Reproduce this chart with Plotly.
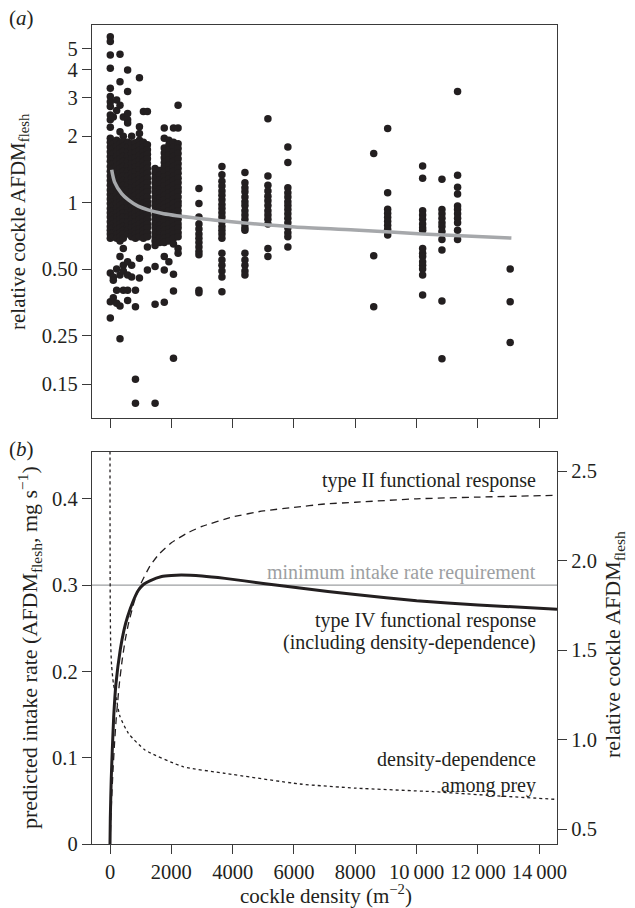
import plotly.graph_objects as go

# ---------------- data: panel (a) scatter, one list per density column ----------------
column_density = [10, 108, 217, 326, 434, 575, 706,
                  830, 960, 1090, 1220,
                  1470, 1620, 1770, 1920, 2070, 2220,
                  2900, 3650, 4400, 5150, 5800,
                  8600, 9055, 10195, 10825, 11335, 13050]

column_values = [
    [5.66, 5.38, 4.68, 4.07, 3.30, 3.03, 2.87, 2.73, 2.50, 2.38, 2.2, 1.96, 1.88, 1.79, 1.70, 1.62, 1.54, 1.46,
     1.39, 1.32, 1.26, 1.20, 1.14, 1.09, 1.04, 0.99, 0.94, 0.90, 0.86, 0.82, 0.78, 0.75, 0.72, 0.69, 0.48, 0.355, 0.30],
    [2.45, 1.85, 1.76, 1.67, 1.58, 1.50, 1.43, 1.36, 1.29, 1.23, 1.17, 1.12, 1.06, 1.01, 0.97, 0.92, 0.88, 0.84,
     0.80, 0.77, 0.73, 0.70, 0.46, 0.445, 0.37],
    [2.92, 2.62, 1.92, 1.80, 1.71, 1.62, 1.54, 1.46, 1.39, 1.32, 1.26, 1.20, 1.14, 1.09, 1.04, 0.99, 0.94, 0.90,
     0.86, 0.82, 0.78, 0.75, 0.72, 0.69, 0.50, 0.40, 0.35],
    [4.71, 3.54, 2.77, 2.10, 1.85, 1.76, 1.67, 1.58, 1.50, 1.43, 1.36, 1.29, 1.23, 1.17, 1.12, 1.06, 1.01, 0.97,
     0.92, 0.88, 0.84, 0.80, 0.77, 0.73, 0.70, 0.67, 0.57, 0.47, 0.34, 0.241],
    [2.45, 2.0, 1.90, 1.80, 1.71, 1.62, 1.54, 1.46, 1.39, 1.32, 1.26, 1.20, 1.14, 1.09, 1.04, 0.99, 0.94, 0.90,
     0.86, 0.82, 0.78, 0.75, 0.72, 0.69, 0.62, 0.52, 0.49, 0.40],
    [4.0, 3.19, 2.54, 2.38, 2.30, 1.88, 1.79, 1.70, 1.62, 1.54, 1.46, 1.39, 1.32, 1.26, 1.20, 1.14, 1.09, 1.04,
     0.99, 0.94, 0.90, 0.86, 0.82, 0.78, 0.75, 0.72, 0.54, 0.47, 0.40, 0.36],
    [2.0, 1.85, 1.76, 1.67, 1.58, 1.50, 1.43, 1.36, 1.29, 1.23, 1.17, 1.12, 1.06, 1.01, 0.97, 0.92, 0.88, 0.84,
     0.80, 0.77, 0.73, 0.70, 0.52, 0.46],
    [1.87, 1.78, 1.69, 1.60, 1.52, 1.45, 1.38, 1.31, 1.25, 1.19, 1.13, 1.08, 1.03, 0.98, 0.94, 0.90, 0.86, 0.82,
     0.78, 0.75, 0.72, 0.69, 0.40, 0.337, 0.158, 0.123],
    [3.69, 2.21, 2.06, 1.92, 1.82, 1.73, 1.64, 1.56, 1.48, 1.41, 1.34, 1.28, 1.22, 1.16, 1.11, 1.06, 1.01, 0.96,
     0.92, 0.88, 0.84, 0.80, 0.76, 0.73, 0.70, 0.56, 0.455],
    [2.59, 1.88, 1.79, 1.70, 1.62, 1.54, 1.46, 1.39, 1.32, 1.26, 1.20, 1.14, 1.09, 1.04, 0.99, 0.94, 0.90, 0.86,
     0.82, 0.78, 0.75, 0.72, 0.69],
    [2.59, 1.83, 1.74, 1.66, 1.58, 1.50, 1.43, 1.36, 1.29, 1.23, 1.17, 1.12, 1.06, 1.01, 0.97, 0.92, 0.88, 0.84,
     0.80, 0.77, 0.73, 0.70, 0.63, 0.495],
    [1.43, 1.36, 1.29, 1.23, 1.17, 1.12, 1.06, 1.01, 0.97, 0.92, 0.88, 0.84, 0.80, 0.77, 0.73, 0.70, 0.67, 0.64,
     0.513, 0.346, 0.123],
    [1.40, 1.33, 1.27, 1.21, 1.15, 1.10, 1.05, 1.00, 0.95, 0.91, 0.87, 0.83, 0.79, 0.76, 0.72, 0.69, 0.66],
    [2.18, 1.96, 1.77, 1.68, 1.60, 1.52, 1.45, 1.38, 1.31, 1.25, 1.19, 1.13, 1.08, 1.03, 0.98, 0.94, 0.90, 0.86,
     0.82, 0.78, 0.75, 0.72, 0.69, 0.66, 0.57, 0.495, 0.353],
    [1.92, 1.82, 1.73, 1.64, 1.56, 1.48, 1.41, 1.34, 1.28, 1.22, 1.16, 1.11, 1.06, 1.01, 0.96, 0.92, 0.88, 0.84,
     0.80, 0.76, 0.73, 0.70, 0.67, 0.54],
    [2.18, 1.88, 1.79, 1.70, 1.62, 1.54, 1.46, 1.39, 1.32, 1.26, 1.20, 1.14, 1.09, 1.04, 0.99, 0.94, 0.90, 0.86,
     0.82, 0.78, 0.75, 0.72, 0.69, 0.65, 0.473, 0.397, 0.197],
    [2.77, 2.18, 1.85, 1.76, 1.67, 1.58, 1.50, 1.43, 1.36, 1.29, 1.23, 1.17, 1.12, 1.06, 1.01, 0.97, 0.92, 0.88,
     0.84, 0.80, 0.77, 0.73, 0.70, 0.62, 0.59],
    [1.16, 0.99, 0.86, 0.80, 0.76, 0.72, 0.69, 0.66, 0.63, 0.60, 0.58, 0.40, 0.39],
    [1.46, 1.34, 1.25, 1.19, 1.13, 1.08, 1.03, 0.98, 0.94, 0.90, 0.86, 0.82, 0.78, 0.75, 0.72, 0.69, 0.59, 0.55,
     0.52, 0.49, 0.46, 0.394],
    [1.37, 1.23, 1.17, 1.12, 1.06, 1.01, 0.97, 0.92, 0.88, 0.84, 0.80, 0.77, 0.75, 0.59, 0.55, 0.52, 0.49, 0.47],
    [2.40, 1.32, 1.20, 1.13, 1.07, 1.02, 0.97, 0.92, 0.88, 0.84, 0.80, 0.62, 0.57],
    [1.79, 1.52, 1.17, 1.11, 1.06, 1.01, 0.97, 0.93, 0.89, 0.85, 0.81, 0.77, 0.73, 0.70, 0.63],
    [1.67, 0.575, 0.337],
    [2.17, 1.11, 0.933, 0.895, 0.859, 0.824, 0.79, 0.758, 0.714],
    [1.467, 1.29, 0.92, 0.88, 0.84, 0.80, 0.77, 0.75, 0.62, 0.59, 0.57, 0.54, 0.52, 0.50, 0.47, 0.381],
    [1.277, 0.93, 0.89, 0.85, 0.81, 0.78, 0.74, 0.68, 0.61, 0.358, 0.196],
    [3.19, 1.33, 1.175, 1.095, 0.966, 0.93, 0.89, 0.85, 0.81, 0.75, 0.68],
    [0.50, 0.355, 0.232],
]

# fitted relation in panel (a) (grey curve)
fit_density = [55, 150, 380, 600, 915, 1680, 2770, 4400, 6030, 7980, 10190, 13090]
fit_value = [1.41, 1.24, 1.10, 1.03, 0.965, 0.895, 0.852, 0.809, 0.776, 0.752, 0.721, 0.691]

# ---------------- data: panel (b) ----------------
type2_density = [0, 25, 50, 100, 150, 200, 300, 400, 500, 600, 800, 1000, 1300, 1600, 2000, 2500, 3000,
                 4000, 5000, 6000, 7000, 8000, 10000, 12000, 14577]
type2_intake = [0, 0.026, 0.049, 0.087, 0.118, 0.144, 0.184, 0.214, 0.237, 0.255, 0.282, 0.301, 0.322, 0.336,
                0.349, 0.360, 0.368, 0.379, 0.386, 0.390, 0.394, 0.396, 0.400, 0.402, 0.404]

type4_density = [0, 10, 40, 75, 120, 195, 335, 450, 570, 750, 925, 1100, 1300, 1685, 2000, 2330, 3000, 3750,
                 5000, 6190, 8000, 10000, 12000, 14577]
type4_intake = [0, 0.03, 0.075, 0.109, 0.147, 0.186, 0.225, 0.247, 0.263, 0.281, 0.294, 0.301, 0.305, 0.310,
                0.3112, 0.3117, 0.3105, 0.3078, 0.302, 0.2966, 0.289, 0.282, 0.277, 0.272]

dd_density = [0.3, 1, 3, 8, 20, 50, 110, 215, 325, 600, 1140, 2390, 3750, 6190, 8000, 10530, 12500, 14577]
dd_relative = [2.61, 2.3, 2.0, 1.75, 1.55, 1.42, 1.315, 1.22, 1.13, 1.036, 0.943, 0.849, 0.8125, 0.753, 0.73,
               0.71, 0.688, 0.667]

min_requirement = 0.3

x_ticks = [0, 2000, 4000, 6000, 8000, 10000, 12000, 14000]
x_ticktext = ["0", "2000", "4000", "6000", "8000", "10\u2009000", "12\u2009000", "14\u2009000"]
ya_ticks = [0.15, 0.25, 0.5, 1, 2, 3, 4, 5]
ya_ticktext = ["0.15", "0.25", "0.50", "1", "2", "3", "4", "5"]
yb_ticks = [0, 0.1, 0.2, 0.3, 0.4]
yb_ticktext = ["0", "0.1", "0.2", "0.3", "0.4"]
yr_ticks = [0.5, 1.0, 1.5, 2.0, 2.5]
yr_ticktext = ["0.5", "1.0", "1.5", "2.0", "2.5"]

# ---------------- figure ----------------
W, H = 635, 908
PL, PR, PT, PB = 92, 557, 25, 844      # plot frame in window pixels
ML, MT, MR, MB = PL, PT, W - PR, H - PB
PW, PH = PR - PL, PB - PT


def px_x(px):
    return (px - PL) / PW


def px_y(py):
    return (PB - py) / PH


FONT = "Liberation Serif, Times New Roman, serif"
INK = "#231f20"
FRAME = "#3a3a3a"

sx, sy = [], []
for d, vals in zip(column_density, column_values):
    for v in vals:
        sx.append(d)
        sy.append(v)

fig = go.Figure()
fig.add_trace(go.Scatter(x=sx, y=sy, mode="markers", xaxis="x", yaxis="y",
                         marker=dict(size=7.5, color=INK, line=dict(width=0))))
fig.add_trace(go.Scatter(x=fit_density, y=fit_value, mode="lines", xaxis="x", yaxis="y",
                         line=dict(color="#a6a8ab", width=3.5, shape="spline", smoothing=0.8)))

fig.add_trace(go.Scatter(x=type2_density, y=type2_intake, mode="lines", xaxis="x2", yaxis="y2",
                         line=dict(color=INK, width=1.3, dash="7px,5px", shape="spline", smoothing=0.5)))
fig.add_trace(go.Scatter(x=dd_density, y=dd_relative, mode="lines", xaxis="x2", yaxis="y3",
                         line=dict(color=INK, width=1.3, dash="3px,3px", shape="spline", smoothing=0.5)))
fig.add_trace(go.Scatter(x=type4_density, y=type4_intake, mode="lines", xaxis="x2", yaxis="y2",
                         line=dict(color=INK, width=3, shape="spline", smoothing=0.5)))

fig.add_shape(type="line", xref="x2 domain", yref="y2", x0=0, x1=1, y0=min_requirement,
              y1=min_requirement, line=dict(color="#9d9fa2", width=1.2), layer="below")

xr = [-587, 14577]
tickfont = dict(family=FONT, size=20.5, color=INK)
common = dict(showgrid=False, zeroline=False, showline=True, linecolor=FRAME, linewidth=1.2,
              ticks="outside", ticklen=9, tickwidth=1, tickcolor=FRAME, tickfont=tickfont)

fig.update_layout(
    width=W, height=H, margin=dict(l=ML, r=MR, t=MT, b=MB, autoexpand=False),
    paper_bgcolor="white", plot_bgcolor="white", showlegend=False, hovermode=False,
    font=dict(family=FONT, size=20, color=INK),
    xaxis=dict(domain=[0, 1], anchor="y", range=xr, tickvals=x_ticks, showticklabels=False,
               mirror=True, **common),
    yaxis=dict(domain=[px_y(418), 1], anchor="x", type="log", range=[-0.977, 0.806],
               tickvals=ya_ticks, ticktext=ya_ticktext, mirror=True, **common),
    xaxis2=dict(domain=[0, 1], anchor="y2", range=xr, tickvals=x_ticks, ticktext=x_ticktext,
                mirror=True, **common),
    yaxis2=dict(domain=[0, px_y(451.7)], anchor="x2", range=[0, 0.4546],
                tickvals=yb_ticks, ticktext=yb_ticktext, mirror=True, **common),
    yaxis3=dict(overlaying="y2", anchor="x2", side="right", range=[0.418, 2.608],
                tickvals=yr_ticks, ticktext=yr_ticktext, **common),
)

ann = []


def add_text(text, px, py, size=20, color=INK, xanchor="center", angle=0):
    ann.append(dict(text=text, x=px_x(px), y=px_y(py), xref="paper", yref="paper", showarrow=False,
                    xanchor=xanchor, yanchor="middle", textangle=angle, borderpad=0,
                    font=dict(family=FONT, size=size, color=color)))


add_text("(<i>a</i>)", 21, 18, size=21)
add_text("(<i>b</i>)", 21, 449, size=21)
add_text("relative cockle AFDM<sub>flesh</sub>", 19, 222, size=21, angle=-90)
add_text("predicted intake rate (AFDM<sub>flesh</sub>, mg s<sup>\u22121</sup>)", 29, 648, size=22, angle=-90)
add_text("relative cockle AFDM<sub>flesh</sub>", 614, 645, size=22, angle=-90)
add_text("cockle density (m<sup>\u22122</sup>)", 326, 894, size=21)

add_text("type II functional response", 537, 480, xanchor="right")
add_text("minimum intake rate requirement", 537, 572, color="#9d9fa2", xanchor="right")
add_text("type IV functional response", 537, 620, xanchor="right")
add_text("(including density-dependence)", 537, 642, xanchor="right")
add_text("density-dependence", 537, 759, xanchor="right")
add_text("among prey", 537, 785, xanchor="right")

fig.update_layout(annotations=ann)
# remove the browser's default 8px page margin so the figure fills the window exactly
fig.write_html("out.html", config={"displayModeBar": False, "staticPlot": True},
               post_script="document.body.style.margin='0px';"
                           "document.body.style.overflow='hidden';")
